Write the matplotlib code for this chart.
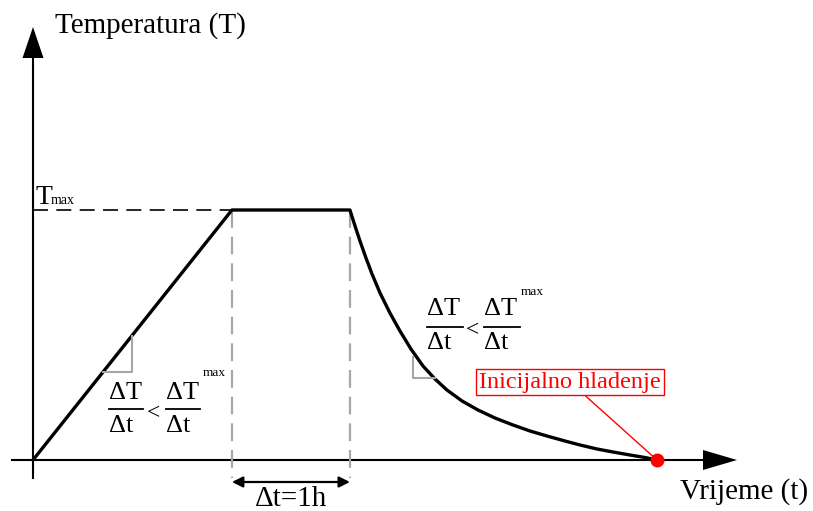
import matplotlib.pyplot as plt

plt.rcParams['font.family'] = ['Liberation Serif', 'DejaVu Serif']

# heating / holding / cooling profile (time in h, temperature as fraction of Tmax)
time = [0.0, 1.686, 2.686, 2.729, 2.771, 2.822, 2.873, 2.941, 3.025, 3.110,
        3.203, 3.305, 3.407, 3.508, 3.636, 3.771, 3.915, 4.068, 4.212, 4.356,
        4.508, 4.636, 4.780, 4.915, 5.059, 5.186, 5.288]
temp = [0.0, 1.0, 1.0, 0.936, 0.876, 0.808, 0.744, 0.668, 0.588, 0.516,
        0.444, 0.376, 0.324, 0.280, 0.236, 0.200, 0.168, 0.140, 0.116, 0.096,
        0.076, 0.060, 0.044, 0.032, 0.020, 0.010, 0.0]
t_ramp_end = 1.686
t_hold_end = 2.686
t_cool_end = 5.288
T_max = 1.0

ylabel = "Temperatura (T)"
xlabel = "Vrijeme (t)"
note = "Inicijalno hladenje"
hold_lbl = "\u0394t=1h"

# canvas mapping (pixel -> data), origin of the axes in pixels
X0, Y0, SX, SY = 33.0, 460.0, 118.0, 250.0
W, H = 813, 511


def px(x, y):
    return (x - X0) / SX, (Y0 - y) / SY


fig = plt.figure(figsize=(W / 100, H / 100), dpi=100)
ax = fig.add_axes([0, 0, 1, 1])
ax.set_xlim(-X0 / SX, (W - X0) / SX)
ax.set_ylim((Y0 - H) / SY, Y0 / SY)
ax.axis('off')

axcol = 'black'
grey = '#a6a6a6'

# axes with arrow heads
ax.plot([0, 0], [px(0, 478)[1], px(0, 50)[1]], color=axcol, lw=1.5)
ax.plot([px(12, 0)[0], px(710, 0)[0]], [0, 0], color=axcol, lw=1.5)
ty = [px(33, 27), px(22.5, 58), px(43.5, 58)]
ax.fill([p[0] for p in ty], [p[1] for p in ty], color=axcol, lw=0)
tx = [px(737, 460), px(703, 450), px(703, 470)]
ax.fill([p[0] for p in tx], [p[1] for p in tx], color=axcol, lw=0)

# Tmax dashed guide and holding period guides
ax.plot([0, t_ramp_end], [T_max, T_max], color='black', lw=1.2, dashes=(9, 5))
for tv in [t_ramp_end, t_hold_end]:
    ax.plot([tv, tv], [T_max, px(0, 478)[1]], color=grey, lw=1.6, dashes=(8, 4))

# main profile
ax.plot(time, temp, color='black', lw=2.4, solid_joinstyle='round')

# slope triangles
slope = T_max / t_ramp_end
xl = px(132, 372)
ax.plot([xl[1] / slope, xl[0], xl[0]], [xl[1], xl[1], xl[0] * slope],
        color=grey, lw=1.5)
a, b, c = px(413, 357), px(413, 378), px(435, 378)
ax.plot([a[0], b[0], c[0]], [a[1], b[1], c[1]], color=grey, lw=1.5)

# hold duration arrow
ya = px(0, 482)[1]
ax.annotate('', xy=(t_hold_end, ya), xytext=(t_ramp_end, ya),
            arrowprops=dict(arrowstyle='<|-|>', color='black', lw=1.6,
                            mutation_scale=16, shrinkA=0, shrinkB=0))
ax.text(*px(291, 499), hold_lbl, fontsize=21, ha='center', va='center')

# axis labels
ax.text(*px(55, 26), ylabel, fontsize=21, ha='left', va='center')
ax.text(*px(680, 492), xlabel, fontsize=21, ha='left', va='center')
ax.text(*px(35, 204), "T", fontsize=20, ha='left', va='baseline')
ax.text(*px(51, 204), "max", fontsize=10, ha='left', va='baseline')


def frac(xc, yn, yd, ybar, w):
    ax.text(*px(xc, yn), "\u0394T", fontsize=19, ha='left', va='center')
    ax.text(*px(xc, yd), "\u0394t", fontsize=19, ha='left', va='center')
    p1, p2 = px(xc, ybar), px(xc + w, ybar)
    ax.plot([p1[0], p2[0]], [p1[1], p2[1]], color='black', lw=1.3)


# slope conditions
frac(109, 393, 426, 409, 34)
ax.text(*px(147, 414), "<", fontsize=17, ha='left', va='center')
frac(166, 393, 426, 409, 34)
ax.text(*px(203, 373), "max", fontsize=9.5, ha='left', va='center')

frac(427, 309, 343, 327, 36)
ax.text(*px(466, 331), "<", fontsize=17, ha='left', va='center')
frac(484, 309, 343, 327, 36)
ax.text(*px(521, 292), "max", fontsize=9.5, ha='left', va='center')

# initial cooling marker
ax.plot([t_cool_end], [0], 'o', color='red', ms=9, zorder=5)
ax.annotate(note, xy=(t_cool_end, 0), xytext=px(570, 382),
            fontsize=17.5, color='red', ha='center', va='center',
            bbox=dict(boxstyle='square,pad=0.12', fc='white', ec='red', lw=1),
            arrowprops=dict(arrowstyle='-', color='red', lw=1,
                            shrinkA=0, shrinkB=0))

fig.savefig('out.png', dpi=100)
